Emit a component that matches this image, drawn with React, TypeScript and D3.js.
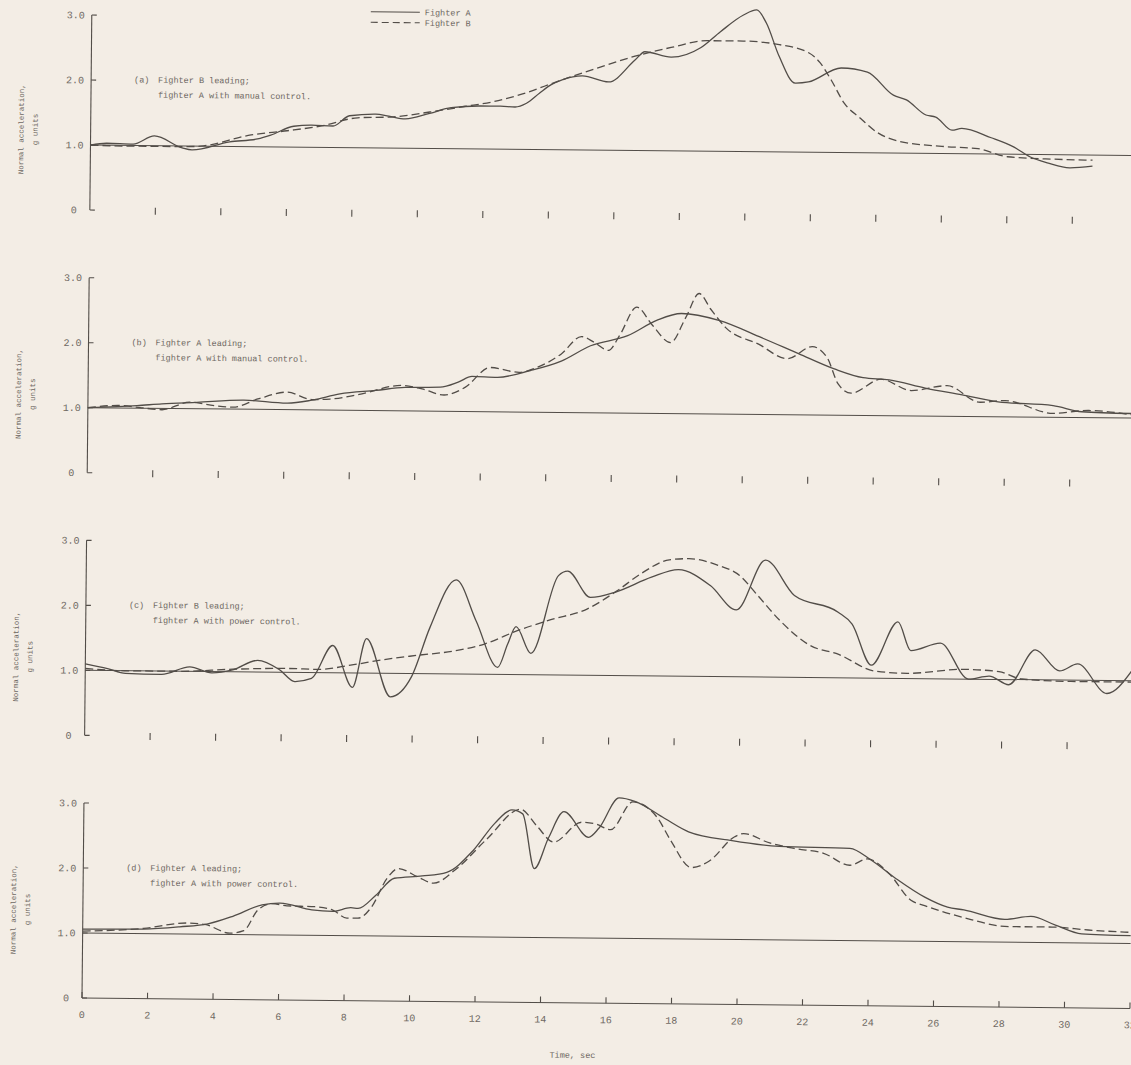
import React, { useEffect } from 'react';
import * as d3 from 'd3';

const W = 1131;
const H = 1065;
const PAPER = '#f3ede5';
const INK = '#6e6862';
const PEN = '#524d48';
const FONT = "'Liberation Mono', 'DejaVu Sans Mono', monospace";

// time axis, sec
const timeTicks = d3.range(0, 33, 2);
const innerTicks = d3.range(2, 31, 2);
const gTicks = [0, 1, 2, 3];
const gLabels = ['0', '1.0', '2.0', '3.0'];

// (a) fighter B leading; fighter A with manual control
const aFighterA = [
  [0, 1.0], [0.5, 1.03], [1.3, 1.02], [1.95, 1.15], [2.8, 0.97], [3.1, 0.94], [4.25, 1.07],
  [5.1, 1.12], [5.5, 1.18], [6.2, 1.32], [6.75, 1.34], [7.4, 1.33], [7.9, 1.49], [8.7, 1.52],
  [9.1, 1.49], [9.6, 1.45], [10.35, 1.54], [11.0, 1.63], [11.9, 1.66], [12.5, 1.66],
  [12.95, 1.65], [13.3, 1.71], [13.7, 1.87], [14.05, 2.0], [14.4, 2.08], [15.0, 2.14],
  [15.8, 2.05], [16.6, 2.39], [16.9, 2.52], [17.7, 2.44], [18.6, 2.59], [19.2, 2.84],
  [19.9, 3.1], [20.3, 3.18], [20.6, 2.98], [21.0, 2.47], [21.5, 2.06], [21.9, 2.08],
  [22.9, 2.3], [23.7, 2.24], [24.5, 1.89], [24.9, 1.82], [25.5, 1.59], [25.8, 1.56],
  [26.3, 1.36], [26.6, 1.39], [27.5, 1.25], [28.2, 1.11], [28.7, 0.96], [29.25, 0.87],
  [29.9, 0.8], [30.6, 0.83],
];
const aFighterB = [
  [0, 1.0], [1.07, 0.99], [2.93, 0.99], [3.36, 1.0], [4.9, 1.18], [6.0, 1.25], [7.05, 1.33],
  [8.15, 1.46], [9.25, 1.48], [10.35, 1.56], [11.4, 1.65], [12.3, 1.73], [13.1, 1.84],
  [14.35, 2.07], [15.45, 2.26], [16.6, 2.45], [17.7, 2.59], [18.8, 2.7], [19.9, 2.7],
  [21.0, 2.65], [21.9, 2.53], [22.25, 2.38], [22.6, 2.11], [23.0, 1.76], [23.5, 1.53],
  [24.0, 1.32], [24.8, 1.17], [26.0, 1.11], [27.1, 1.08], [28.0, 0.96], [29.4, 0.93],
  [30.6, 0.92],
];

// (b) fighter A leading; fighter A with manual control
const bFighterA = [
  [0, 1.0], [1.5, 1.04], [2.26, 1.07], [3.33, 1.1], [4.76, 1.14], [6.08, 1.1], [6.84, 1.15],
  [7.69, 1.25], [8.79, 1.31], [9.68, 1.36], [10.75, 1.37], [11.3, 1.45], [11.72, 1.54],
  [12.49, 1.53], [13.5, 1.64], [14.44, 1.79], [15.33, 2.03], [16.46, 2.19], [17.34, 2.43],
  [18.1, 2.54], [19.24, 2.44], [20.55, 2.18], [21.68, 1.94], [22.78, 1.71], [23.66, 1.58],
  [24.46, 1.55], [25.56, 1.43], [26.69, 1.33], [27.79, 1.23], [29.47, 1.18], [30.35, 1.09],
  [31.88, 1.07],
];
const bFighterB = [
  [0, 1.0], [0.95, 1.04], [1.59, 1.01], [2.26, 0.98], [3.11, 1.1], [3.88, 1.05], [4.43, 1.03],
  [5.19, 1.16], [6.08, 1.27], [6.84, 1.16], [7.39, 1.17], [8.24, 1.24], [9.56, 1.39],
  [10.2, 1.34], [10.87, 1.25], [11.51, 1.37], [12.27, 1.68], [13.16, 1.61], [13.71, 1.69],
  [14.44, 1.9], [15.05, 2.17], [15.45, 2.08], [15.88, 1.96], [16.21, 2.19], [16.73, 2.63],
  [17.22, 2.35], [17.77, 2.09], [18.23, 2.48], [18.63, 2.85], [18.99, 2.61], [19.45, 2.33],
  [20.46, 2.08], [21.34, 1.86], [22.1, 2.05], [22.56, 1.88], [22.9, 1.48], [23.3, 1.34],
  [24.21, 1.56], [25.13, 1.39], [26.23, 1.47], [27.24, 1.22], [28.0, 1.25], [29.47, 1.06],
  [30.56, 1.11], [31.88, 1.05],
];

// (c) fighter B leading; fighter A with power control
const cFighterA = [
  [0, 1.1], [0.68, 1.03], [1.23, 0.96], [2.33, 0.95], [3.19, 1.07], [3.86, 0.98], [4.5, 1.03],
  [5.26, 1.18], [5.93, 1.04], [6.4, 0.86], [6.91, 0.91], [7.55, 1.42], [8.16, 0.78],
  [8.58, 1.53], [9.32, 0.64], [9.96, 0.95], [10.51, 1.71], [11.3, 2.45], [11.92, 1.82],
  [12.59, 1.11], [12.89, 1.47], [13.14, 1.74], [13.6, 1.33], [14.42, 2.53], [14.7, 2.6],
  [15.4, 2.2], [16.19, 2.29], [17.26, 2.52], [18.08, 2.64], [19.06, 2.4], [19.86, 2.03],
  [20.74, 2.8], [21.63, 2.26], [22.97, 2.01], [23.4, 1.83], [24.0, 1.2], [24.8, 1.87],
  [25.2, 1.43], [26.1, 1.55], [26.97, 1.0], [27.6, 1.05], [28.2, 0.92], [29.0, 1.46],
  [29.75, 1.14], [30.3, 1.25], [31.2, 0.8], [31.95, 1.15],
];
const cFighterB = [
  [0, 1.03], [1.2, 1.0], [2.9, 1.0], [4.5, 1.04], [6.2, 1.06], [7.1, 1.05], [8.1, 1.12],
  [9.1, 1.21], [10.1, 1.28], [11.2, 1.35], [12.2, 1.47], [13.2, 1.68], [14.2, 1.85],
  [15.3, 2.02], [16.2, 2.3], [16.96, 2.58], [17.8, 2.79], [18.4, 2.81], [19.3, 2.71],
  [19.95, 2.56], [20.5, 2.26], [21.2, 1.87], [22.1, 1.5], [23.0, 1.36], [24.1, 1.11],
  [25.1, 1.08], [26.8, 1.15], [27.9, 1.12], [28.6, 1.01], [30.1, 0.98], [31.95, 0.98],
];

// (d) fighter A leading; fighter A with power control
const dFighterA = [
  [0, 1.06], [1.86, 1.07], [2.96, 1.11], [3.82, 1.16], [4.58, 1.28], [5.47, 1.46],
  [6.02, 1.49], [6.99, 1.39], [7.63, 1.37], [8.18, 1.43], [8.4, 1.42], [8.95, 1.63],
  [9.5, 1.89], [10.35, 1.93], [11.1, 1.99], [11.9, 2.33], [12.55, 2.75], [13.07, 2.96],
  [13.4, 2.9], [13.77, 2.06], [14.2, 2.54], [14.66, 2.94], [15.42, 2.55], [15.73, 2.69],
  [16.34, 3.16], [16.82, 3.11], [17.74, 2.85], [18.47, 2.65], [19.8, 2.52], [21.25, 2.44],
  [23.4, 2.42], [24.06, 2.24], [24.82, 1.96], [25.7, 1.68], [26.4, 1.53], [26.9, 1.49],
  [28.15, 1.35], [28.95, 1.4], [29.7, 1.27], [30.5, 1.14], [32.0, 1.12],
];
const dFighterB = [
  [0, 1.03], [1.86, 1.08], [3.18, 1.17], [3.73, 1.15], [4.49, 1.02], [4.92, 1.06],
  [5.34, 1.38], [5.77, 1.48], [6.23, 1.45], [7.08, 1.44], [7.63, 1.39], [8.06, 1.27],
  [8.4, 1.27], [8.82, 1.45], [9.28, 1.89], [9.62, 2.04], [10.23, 1.91], [10.7, 1.82],
  [11.36, 2.03], [12.3, 2.5], [13.34, 2.97], [13.83, 2.72], [14.35, 2.47], [15.2, 2.78],
  [15.6, 2.76], [16.09, 2.67], [16.76, 3.1], [17.5, 2.87], [17.92, 2.52], [18.56, 2.1],
  [19.1, 2.2], [19.88, 2.58], [20.15, 2.63], [20.95, 2.49], [21.7, 2.41], [22.6, 2.34],
  [23.4, 2.16], [23.94, 2.26], [24.6, 2.04], [25.28, 1.63], [25.7, 1.55], [26.84, 1.38],
  [28.27, 1.24], [29.6, 1.24], [30.7, 1.2], [32.0, 1.17],
];

const panels = [
  { tag: '(a)', line1: 'Fighter B leading;', line2: 'fighter A with manual control.', fa: aFighterA, fb: aFighterB, titleOff: 80 },
  { tag: '(b)', line1: 'Fighter A leading;', line2: 'fighter A with manual control.', fa: bFighterA, fb: bFighterB, titleOff: 78 },
  { tag: '(c)', line1: 'Fighter B leading;', line2: 'fighter A with power control.', fa: cFighterA, fb: cFighterB, titleOff: 78 },
  { tag: '(d)', line1: 'Fighter A leading;', line2: 'fighter A with power control.', fa: dFighterA, fb: dFighterB, titleOff: 88 },
];

const Panel = ({ p, i, x, base }) => {
  const y0 = base(i);
  const y = d3.scaleLinear().domain([0, 3]).range([y0, y0 - 195]);
  const line = d3.line().x((d) => x(d[0])).y((d) => y(d[1])).curve(d3.curveMonotoneX);
  const x0 = x(0);
  const last = i === panels.length - 1;
  return (
    <g>
      {/* y axis */}
      <line x1={x0} x2={x0} y1={y(0)} y2={y(3)} stroke={PEN} strokeWidth={1.1} />
      {gTicks.map((g) => (
        <line key={g} x1={x0} x2={x0 + 5} y1={y(g)} y2={y(g)} stroke={PEN} strokeWidth={1.1} />
      ))}
      {gTicks.map((g, k) => (
        <text key={g} x={g === 0 ? x0 - 13 : x0 - 7} y={y(g) + 3.5} textAnchor="end" fontSize={10} fill={INK}>
          {gLabels[k]}
        </text>
      ))}
      <text transform={`translate(15,${y0 - p.titleOff}) rotate(-90)`} textAnchor="middle" fontSize={7.5} fill={INK}>
        Normal acceleration,
      </text>
      <text transform={`translate(29,${y0 - p.titleOff}) rotate(-90)`} textAnchor="middle" fontSize={7.5} fill={INK}>
        g units
      </text>

      {/* 1 g reference */}
      <line x1={x0} x2={x(32)} y1={y(1)} y2={y(1)} stroke={PEN} strokeWidth={1} />

      {/* time ticks */}
      {last ? (
        <g>
          <line x1={x0} x2={x(32)} y1={y0} y2={y0} stroke={PEN} strokeWidth={1.1} />
          {timeTicks.map((t) => (
            <g key={t}>
              <line x1={x(t)} x2={x(t)} y1={y0} y2={y0 - 6} stroke={PEN} strokeWidth={1.1} />
              <text x={x(t)} y={y0 + 20} textAnchor="middle" fontSize={10} fill={INK}>{t}</text>
            </g>
          ))}
        </g>
      ) : (
        innerTicks.map((t) => (
          <line key={t} x1={x(t)} x2={x(t)} y1={y0 - 3} y2={y0 + 4} stroke={PEN} strokeWidth={1.1} />
        ))
      )}

      {/* caption */}
      <text x={x0 + 43} y={y0 - 128} fontSize={8.5} fill={INK}>{p.tag}</text>
      <text x={x0 + 67} y={y0 - 128} fontSize={8.5} fill={INK}>{p.line1}</text>
      <text x={x0 + 67} y={y0 - 113} fontSize={8.5} fill={INK}>{p.line2}</text>

      <path d={line(p.fb)} fill="none" stroke={PEN} strokeWidth={1.3} strokeDasharray="8,4" />
      <path d={line(p.fa)} fill="none" stroke={PEN} strokeWidth={1.3} />
    </g>
  );
};

export default function App() {
  useEffect(() => {
    document.body.style.margin = '0';
    document.body.style.background = PAPER;
  }, []);

  const x = d3.scaleLinear().domain([0, 32]).range([82, 82 + 32 * 32.75]);
  const base = d3.scaleLinear().domain([0, 3]).range([210, 998]);

  return (
    <svg width={W} height={H} style={{ display: 'block' }} fontFamily={FONT}>
      <rect width={W} height={H} fill={PAPER} />
      {/* the scanned sheet sits slightly rotated */}
      <g transform="rotate(0.57 82 998)">
        {/* legend */}
        <line x1={361} x2={410} y1={9} y2={9} stroke={PEN} strokeWidth={1.1} />
        <text x={415} y={12} fontSize={8.5} fill={INK}>Fighter A</text>
        <line x1={361} x2={410} y1={19.5} y2={19.5} stroke={PEN} strokeWidth={1.1} strokeDasharray="7,4" />
        <text x={415} y={22.5} fontSize={8.5} fill={INK}>Fighter B</text>

        {panels.map((p, i) => (
          <Panel key={p.tag} p={p} i={i} x={x} base={base} />
        ))}

        <text x={573} y={1053} textAnchor="middle" fontSize={8.5} fill={INK}>Time, sec</text>
      </g>
    </svg>
  );
}
